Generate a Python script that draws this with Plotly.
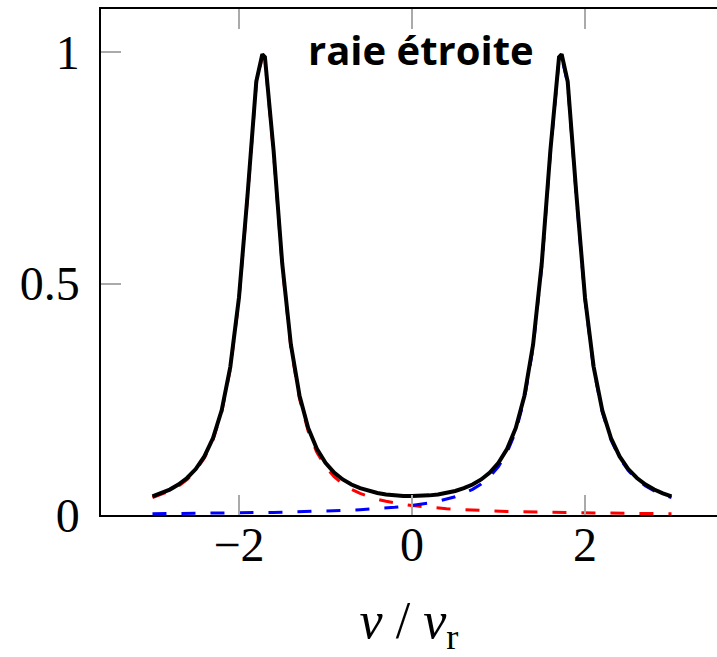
import plotly.graph_objects as go

# sample positions (v / v_r)
x_vals = [-3.0, -2.9, -2.8, -2.7, -2.6, -2.5, -2.4, -2.3, -2.2, -2.1, -2.0, -1.9, -1.8,
          -1.73,
          -1.7, -1.6, -1.5, -1.4, -1.3, -1.2, -1.1, -1.0, -0.9, -0.8, -0.7, -0.6, -0.5,
          -0.4, -0.3, -0.2, -0.1, 0.0, 0.1, 0.2, 0.3, 0.4, 0.5, 0.6, 0.7, 0.8, 0.9, 1.0,
          1.1, 1.2, 1.3, 1.4, 1.5, 1.6, 1.7,
          1.73,
          1.8, 1.9, 2.0, 2.1, 2.2, 2.3, 2.4, 2.5, 2.6, 2.7, 2.8, 2.9, 3.0]

# red dashed line (left resonance)
red_vals = [0.0374, 0.0438, 0.0519, 0.0625, 0.0766, 0.0958, 0.1229, 0.1623, 0.2220, 0.3158,
            0.4653, 0.6889, 0.9311,
            0.9900,
            0.9839, 0.7820, 0.5373, 0.3618, 0.2509, 0.1809, 0.1353, 0.1045, 0.0828, 0.0671,
            0.0554, 0.0465, 0.0395, 0.0340, 0.0296, 0.0259, 0.0229, 0.0204, 0.0183, 0.0165,
            0.0149, 0.0136, 0.0124, 0.0114, 0.0105, 0.0097, 0.0089, 0.0083, 0.0077, 0.0072,
            0.0068, 0.0063, 0.0059, 0.0056, 0.0053,
            0.0052,
            0.0050, 0.0047, 0.0045, 0.0042, 0.0040, 0.0038, 0.0036, 0.0035, 0.0033, 0.0032,
            0.0030, 0.0029, 0.0028]

# blue dashed line (right resonance)
blue_vals = [0.0028, 0.0029, 0.0030, 0.0032, 0.0033, 0.0035, 0.0036, 0.0038, 0.0040, 0.0042,
             0.0045, 0.0047, 0.0050,
             0.0052,
             0.0053, 0.0056, 0.0059, 0.0063, 0.0068, 0.0072, 0.0077, 0.0083, 0.0089, 0.0097,
             0.0105, 0.0114, 0.0124, 0.0136, 0.0149, 0.0165, 0.0183, 0.0204, 0.0229, 0.0259,
             0.0296, 0.0340, 0.0395, 0.0465, 0.0554, 0.0671, 0.0828, 0.1045, 0.1353, 0.1809,
             0.2509, 0.3618, 0.5373, 0.7820, 0.9839,
             0.9900,
             0.9311, 0.6889, 0.4653, 0.3158, 0.2220, 0.1623, 0.1229, 0.0958, 0.0766, 0.0625,
             0.0519, 0.0438, 0.0374]

# black solid line (total)
black_vals = [0.0402, 0.0467, 0.0549, 0.0657, 0.0799, 0.0993, 0.1265, 0.1661, 0.2260, 0.3200,
              0.4698, 0.6936, 0.9361,
              0.9952,
              0.9892, 0.7876, 0.5432, 0.3681, 0.2577, 0.1881, 0.1430, 0.1128, 0.0917, 0.0768,
              0.0659, 0.0579, 0.0519, 0.0476, 0.0445, 0.0424, 0.0412, 0.0408, 0.0412, 0.0424,
              0.0445, 0.0476, 0.0519, 0.0579, 0.0659, 0.0768, 0.0917, 0.1128, 0.1430, 0.1881,
              0.2577, 0.3681, 0.5432, 0.7876, 0.9892,
              0.9952,
              0.9361, 0.6936, 0.4698, 0.3200, 0.2260, 0.1661, 0.1265, 0.0993, 0.0799, 0.0657,
              0.0549, 0.0467, 0.0402]

x_ticks = [-2, 0, 2]
x_tick_text = ["\u22122", "0", "2"]
y_ticks = [0, 0.5, 1]
y_tick_text = ["0", "0.5", "1"]
title_text = "raie étroite"

serif = "Liberation Serif"
tick_col = "#aaaaaa"
label_pad = "\u2009"  # small gap between y labels and the axis line

fig = go.Figure()
fig.add_trace(go.Scatter(x=x_vals, y=red_vals, mode="lines",
                         line=dict(color="#ff0000", width=3, dash="14px,15px"),
                         showlegend=False, hoverinfo="skip"))
fig.add_trace(go.Scatter(x=x_vals, y=blue_vals, mode="lines",
                         line=dict(color="#0000ff", width=3, dash="14px,15px"),
                         showlegend=False, hoverinfo="skip"))
fig.add_trace(go.Scatter(x=x_vals, y=black_vals, mode="lines",
                         line=dict(color="#000000", width=4),
                         showlegend=False, hoverinfo="skip"))

fig.update_layout(
    width=717, height=657,
    margin=dict(l=101, r=0, t=9, b=142),
    paper_bgcolor="white", plot_bgcolor="white",
    font=dict(family=serif, size=48, color="black"),
    xaxis=dict(range=[-3.595, 3.526], tickvals=x_ticks, ticktext=x_tick_text,
               ticks="inside", ticklen=20, tickwidth=2, tickcolor=tick_col,
               showline=True, linecolor="black", linewidth=2, mirror="ticks",
               showgrid=False, zeroline=False, automargin=False, ticklabelstandoff=-14,
               tickfont=dict(family=serif, size=48),
               title=dict(text="<i>v</i> / <i>v</i><sub>r</sub>",
                          font=dict(family=serif, size=52), standoff=32)),
    yaxis=dict(range=[0, 1.093], tickvals=y_ticks,
               ticktext=[t + label_pad for t in y_tick_text],
               ticks="inside", ticklen=20, tickwidth=2, tickcolor=tick_col,
               showline=True, linecolor="black", linewidth=2, mirror=False,
               showgrid=False, zeroline=False, automargin=False,
               tickfont=dict(family=serif, size=48)),
    yaxis2=dict(range=[0, 1.093], tickvals=y_ticks, overlaying="y", side="right",
                anchor="x", ticks="inside", ticklen=15, tickwidth=2, tickcolor=tick_col,
                showticklabels=False, showline=False, showgrid=False, zeroline=False,
                automargin=False),
    annotations=[dict(text="<b>" + title_text + "</b>", x=0.1, y=1.005,
                      xref="x", yref="y", showarrow=False, xanchor="center", yanchor="middle",
                      font=dict(family="Open Sans", size=40, color="black"))],
)

fig.write_html("out.html", config={"displayModeBar": False},
               post_script="document.body.style.margin='0';document.body.style.overflow='hidden';")
